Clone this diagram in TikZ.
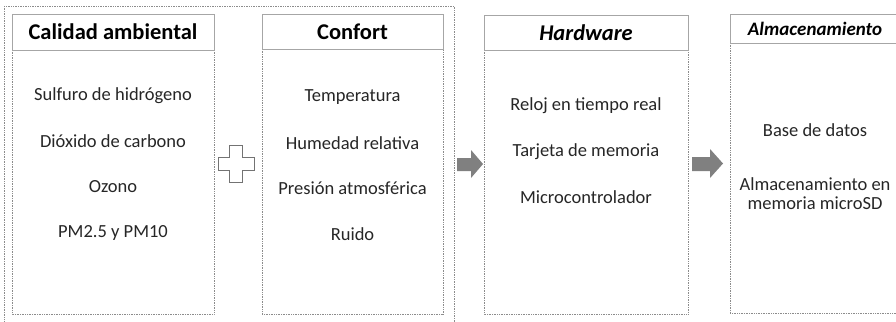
\documentclass[tikz,border=0pt]{standalone}
\usepackage{fontspec}
\setmainfont{Carlito}
\begin{document}
\begin{tikzpicture}[x=1pt,y=-1pt,
  frame/.style={draw=black!45, densely dotted, line width=0.7pt},
  head/.style={draw=black!35, line width=0.8pt, fill=white},
  item/.style={font=\fontsize{18.5}{19}\selectfont, text=black!85, inner sep=0pt, align=center},
  ttl/.style={font=\fontsize{22.5}{24}\selectfont\bfseries, text=black, inner sep=0pt},
  blockarrow/.style={fill=black!50, draw=none},
  plusshape/.style={draw=black!55, line width=0.9pt, fill=white}
]
\useasboundingbox (0,0) rectangle (896,321);
\fill[white] (0,0) rectangle (896,321);
% outer group frame
\draw[frame] (4,6) rectangle (454,330);
% box bodies
\draw[frame] (12,50) rectangle (214,314);
\draw[frame] (262,49) rectangle (443,314);
\draw[frame] (484,50) rectangle (688,314);
\draw[frame] (730,43) rectangle (898,313);
% headers
\draw[head] (12,14) rectangle (214,50);
\draw[head] (262,14) rectangle (443,49);
\draw[head] (484,15) rectangle (688,50);
\draw[head] (730,14) rectangle (898,43);
% titles
\node[ttl] (t1) at (113,32) {Calidad ambiental};
\node[ttl] (t2) at (352.5,32) {Confort};
\node[ttl, font=\fontsize{22.5}{24}\selectfont\bfseries\itshape] (t3) at (586,33) {Hardware};
\node[ttl, font=\fontsize{19}{20}\selectfont\bfseries\itshape] (t4) at (815,29) {Almacenamiento};
% column 1
\node[item] (a1) at (113,96) {Sulfuro de hidrógeno};
\node[item] (a2) at (113,141) {Dióxido de carbono};
\node[item] (a3) at (113,187) {Ozono};
\node[item] (a4) at (113,233) {PM2.5 y PM10};
% column 2
\node[item] (b1) at (352.5,97) {Temperatura};
\node[item] (b2) at (352.5,143) {Humedad relativa};
\node[item] (b3) at (352.5,188) {Presión atmosférica};
\node[item] (b4) at (352.5,234) {Ruido};
% column 3
\node[item] (c1) at (586,106) {Reloj en tiempo real};
\node[item] (c2) at (586,152) {Tarjeta de memoria};
\node[item] (c3) at (586,197) {Microcontrolador};
% column 4
\node[item] (d1) at (815,130) {Base de datos};
\node[item] (d2) at (815,194) {Almacenamiento en\\memoria microSD};
% plus sign
\draw[plusshape] (229,145) -- (242,145) -- (242,157) -- (254,157) -- (254,170) -- (242,170)
  -- (242,182) -- (229,182) -- (229,170) -- (218,170) -- (218,157) -- (229,157) -- cycle;
% block arrows
\fill[blockarrow] (457,158) -- (471,158) -- (471,150) -- (483,164) -- (471,178) -- (471,171) -- (457,171) -- cycle;
\fill[blockarrow] (692,157) -- (710,157) -- (710,149) -- (723,163.5) -- (710,178) -- (710,171) -- (692,171) -- cycle;
\end{tikzpicture}
\end{document}
